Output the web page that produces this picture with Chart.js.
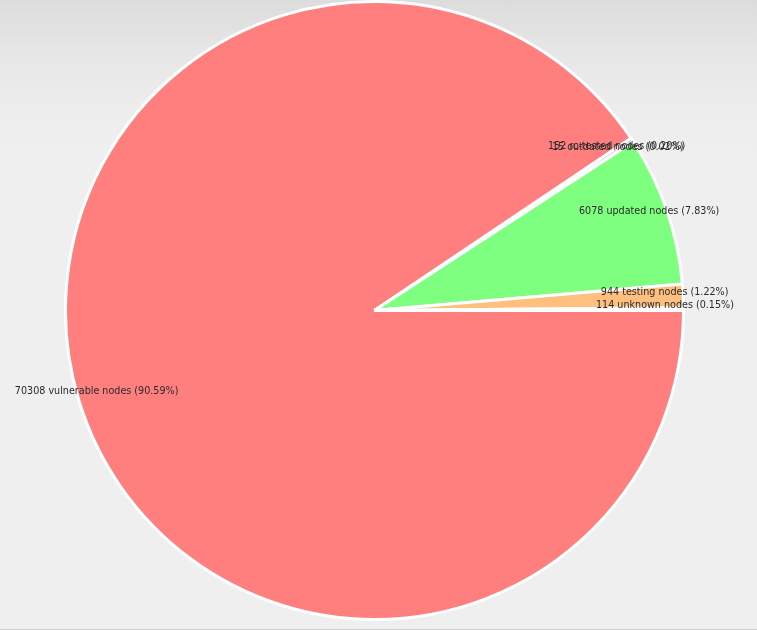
<!DOCTYPE html>
<html>
<head>
<meta charset="utf-8">
<script src="https://cdn.jsdelivr.net/npm/chart.js@4/dist/chart.umd.min.js"></script>
<style>
  html, body { margin: 0; padding: 0; }
  body {
    width: 757px; height: 630px; overflow: hidden; position: relative;
    background: linear-gradient(to bottom, #dcdcdc 0px, #e6e6e6 50px, #ececec 100px, #efefef 150px, #efefef 630px);
  }
  #c { position: absolute; left: 0; top: 0; }
  #line { position: absolute; left: 0; top: 629px; width: 757px; height: 1px; background: #cfcfcf; }
</style>
</head>
<body>
<canvas id="c" width="757" height="630"></canvas>
<div id="line"></div>
<script>
// Data (clockwise order from the 3 o'clock position)
const categories = ["vulnerable", "rc-tested", "outdated", "updated", "testing", "unknown"];
const counts = [70308, 152, 15, 6078, 944, 114];
const percents = ["90.59", "0.20", "0.02", "7.83", "1.22", "0.15"];
const colors = ["#ff7f7f", "#9f9fff", "#ffff80", "#7fff7f", "#ffbf7f", "#cfcfcf"];

const labels = categories.map((c, i) => counts[i] + " " + c + " nodes (" + percents[i] + "%)");

const labelPlugin = {
  id: 'sliceLabels',
  afterDatasetsDraw(chart) {
    const ctx = chart.ctx;
    const meta = chart.getDatasetMeta(0);
    ctx.save();
    ctx.font = '9.6px "DejaVu Sans", Verdana, sans-serif';
    ctx.fillStyle = '#2a2a2a';
    ctx.textAlign = 'center';
    ctx.textBaseline = 'middle';
    meta.data.forEach((arc, i) => {
      const p = arc.getProps(['x', 'y', 'startAngle', 'endAngle', 'outerRadius'], true);
      const mid = (p.startAngle + p.endAngle) / 2;
      const r = p.outerRadius * 0.94;
      const x = p.x + Math.cos(mid) * r;
      const y = p.y + Math.sin(mid) * r - 4;
      ctx.fillText(labels[i], x, y);
    });
    ctx.restore();
  }
};

new Chart(document.getElementById('c'), {
  type: 'pie',
  data: {
    labels: labels,
    datasets: [{
      data: counts,
      backgroundColor: colors,
      borderColor: '#ffffff',
      borderWidth: 3
    }]
  },
  options: {
    responsive: false,
    animation: false,
    rotation: 90,
    layout: { padding: { left: 64, right: 72, top: 0, bottom: 9 } },
    plugins: {
      legend: { display: false },
      tooltip: { enabled: false }
    }
  },
  plugins: [labelPlugin]
});
</script>
</body>
</html>
